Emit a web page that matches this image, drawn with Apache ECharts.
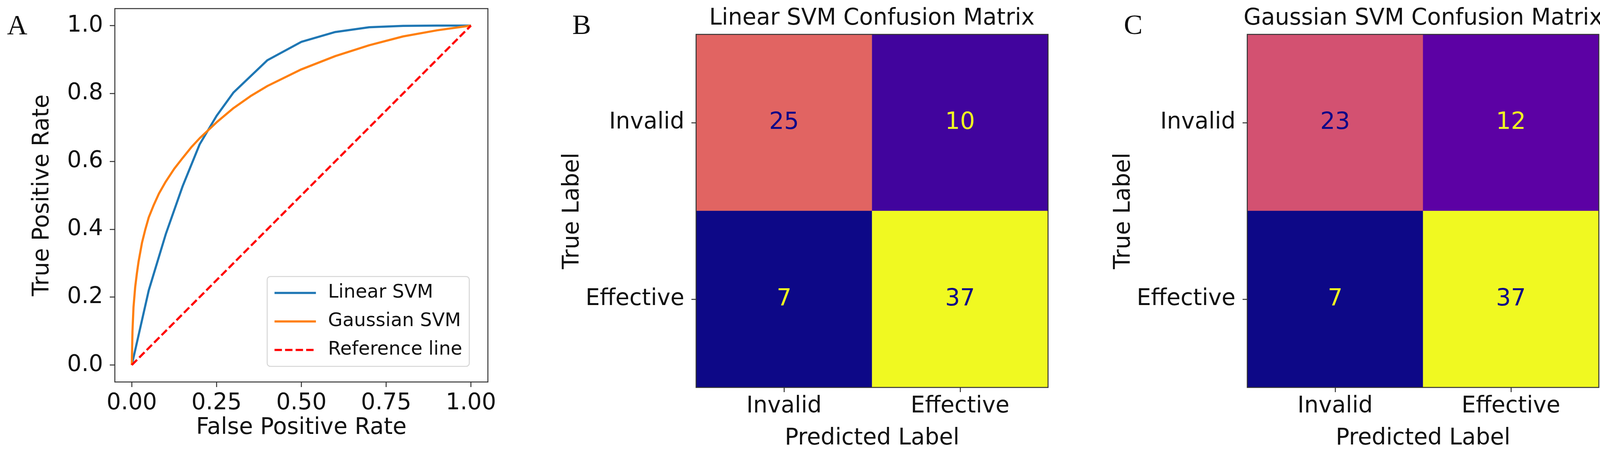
<!DOCTYPE html>
<html>
<head>
<meta charset="utf-8">
<script src="https://cdn.jsdelivr.net/npm/echarts@6/dist/echarts.min.js"></script>
<style>
html,body{margin:0;padding:0;background:#fff;}
#chart{width:4152px;height:1188px;}
</style>
</head>
<body>
<div id="chart"></div>
<script>
// ---- ROC data ----
const linearFpr = [0, 0.05, 0.1, 0.15, 0.2, 0.25, 0.3, 0.4, 0.5, 0.6, 0.7, 0.8, 0.9, 1.0];
const linearTpr = [0, 0.22, 0.385, 0.527, 0.65, 0.734, 0.803, 0.898, 0.952, 0.981, 0.995, 0.999, 1.0, 1.0];
const gaussFpr = [0, 0.002, 0.005, 0.01, 0.015, 0.02, 0.03, 0.04, 0.05, 0.065, 0.08, 0.1, 0.125, 0.15, 0.175, 0.2, 0.25, 0.3, 0.35, 0.4, 0.5, 0.6, 0.7, 0.8, 0.9, 1.0];
const gaussTpr = [0, 0.1, 0.17, 0.23, 0.27, 0.305, 0.36, 0.4, 0.435, 0.472, 0.505, 0.54, 0.578, 0.61, 0.641, 0.668, 0.715, 0.757, 0.792, 0.822, 0.871, 0.91, 0.942, 0.968, 0.986, 1.0];
const refFpr = [0, 1];
const refTpr = [0, 1];
const rocNames = ['Linear SVM', 'Gaussian SVM', 'Reference line'];
const xTicks = [0, 0.25, 0.5, 0.75, 1.0];
const xTickLabels = ['0.00', '0.25', '0.50', '0.75', '1.00'];
const yTicks = [0, 0.2, 0.4, 0.6, 0.8, 1.0];
const yTickLabels = ['0.0', '0.2', '0.4', '0.6', '0.8', '1.0'];

// ---- Confusion matrices (rows: true label, cols: predicted label) ----
const cmLabels = ['Invalid', 'Effective'];
const linearCM = [[25, 10], [7, 37]];
const gaussianCM = [[23, 12], [7, 37]];
const cmTitles = ['Linear SVM Confusion Matrix', 'Gaussian SVM Confusion Matrix'];
const panelLetters = ['A', 'B', 'C'];

// plasma colormap stops
const plasma = ['#0d0887','#41049d','#6a00a8','#8f0da4','#b12a90','#cc4778','#e16462','#f2844b','#fca636','#fcce25','#f0f921'];

const FONT = 'DejaVu Sans';
const TXT = '#111';
const FRAME = '#333';

function pairs(xs, ys) { return xs.map((x, i) => [x, ys[i]]); }
function cmData(cm) {
  const flat = cm.flat();
  const thr = (Math.min(...flat) + Math.max(...flat)) / 2;
  const out = [];
  cm.forEach((row, i) => row.forEach((v, j) => {
    out.push({ value: [j, i, v], label: { color: v > thr ? plasma[0] : plasma[plasma.length - 1] } });
  }));
  return out;
}
function cmMin(cm) { return Math.min(...cm.flat()); }
function cmMax(cm) { return Math.max(...cm.flat()); }

const gridStyle = { show: true, borderColor: FRAME, borderWidth: 2.5, backgroundColor: 'transparent' };
const tickStyle = { lineStyle: { color: FRAME, width: 2.5 } };

function catX(gi) {
  return {
    type: 'category', gridIndex: gi, data: cmLabels,
    axisLine: { show: false },
    axisTick: Object.assign({ show: true, alignWithLabel: true, length: 12 }, tickStyle),
    axisLabel: { fontSize: 58, color: TXT, fontFamily: FONT, margin: 20 },
    splitLine: { show: false },
    name: 'Predicted Label', nameLocation: 'middle', nameGap: 102,
    nameTextStyle: { fontSize: 58, color: TXT, fontFamily: FONT }
  };
}
function catY(gi) {
  return {
    type: 'category', gridIndex: gi, data: cmLabels, inverse: true,
    axisLine: { show: false },
    axisTick: Object.assign({ show: true, alignWithLabel: true, length: 12 }, tickStyle),
    axisLabel: { fontSize: 58, color: TXT, fontFamily: FONT, margin: 30 },
    splitLine: { show: false },
    name: 'True Label', nameLocation: 'middle', nameGap: 276,
    nameTextStyle: { fontSize: 58, color: TXT, fontFamily: FONT }
  };
}
function heat(name, gi, cm) {
  return {
    name: name, type: 'heatmap', xAxisIndex: gi, yAxisIndex: gi, z: -1,
    data: cmData(cm),
    label: { show: true, fontSize: 60, fontFamily: FONT },
    itemStyle: { borderWidth: 0 },
    emphasis: { disabled: true }
  };
}

const option = {
  backgroundColor: '#fff',
  animation: false,
  textStyle: { fontFamily: FONT },
  grid: [
    Object.assign({ left: 294, top: 22, width: 955, height: 956 }, gridStyle),
    Object.assign({ left: 1782, top: 88, width: 901, height: 904 }, gridStyle),
    Object.assign({ left: 3193, top: 88, width: 900, height: 904 }, gridStyle)
  ],
  xAxis: [
    {
      type: 'value', gridIndex: 0, min: -0.05, max: 1.05,
      axisLine: { show: false, onZero: false },
      axisTick: Object.assign({ show: true, customValues: xTicks, length: 13 }, tickStyle),
      axisLabel: { customValues: xTicks, fontSize: 58, color: TXT, fontFamily: FONT, margin: 26,
        formatter: v => { const k = xTicks.indexOf(v); return k >= 0 ? xTickLabels[k] : ''; } },
      splitLine: { show: false },
      name: 'False Positive Rate', nameLocation: 'middle', nameGap: 86,
      nameTextStyle: { fontSize: 58, color: TXT, fontFamily: FONT }
    },
    catX(1), catX(2)
  ],
  yAxis: [
    {
      type: 'value', gridIndex: 0, min: -0.05, max: 1.05,
      axisLine: { show: false, onZero: false },
      axisTick: Object.assign({ show: true, customValues: yTicks, length: 13 }, tickStyle),
      axisLabel: { customValues: yTicks, fontSize: 58, color: TXT, fontFamily: FONT, margin: 30,
        formatter: v => { const k = yTicks.indexOf(v); return k >= 0 ? yTickLabels[k] : ''; } },
      splitLine: { show: false },
      name: 'True Positive Rate', nameLocation: 'middle', nameGap: 156,
      nameTextStyle: { fontSize: 58, color: TXT, fontFamily: FONT }
    },
    catY(1), catY(2)
  ],
  legend: {
    data: rocNames,
    orient: 'vertical', left: 684, top: 708,
    padding: [16, 18, 16, 16],
    itemWidth: 106, itemHeight: 20, itemGap: 21,
    itemStyle: { opacity: 0 },
    lineStyle: { width: 5.5 },
    backgroundColor: 'rgba(255,255,255,0.85)',
    borderColor: '#d6d6d6', borderWidth: 2.5, borderRadius: 8,
    textStyle: { fontSize: 48, color: TXT, fontFamily: FONT, lineHeight: 52, padding: [0, 0, 0, 26] },
    selectedMode: false
  },
  visualMap: [
    { type: 'continuous', show: false, seriesIndex: 3, dimension: 2, min: cmMin(linearCM), max: cmMax(linearCM), inRange: { color: plasma } },
    { type: 'continuous', show: false, seriesIndex: 4, dimension: 2, min: cmMin(gaussianCM), max: cmMax(gaussianCM), inRange: { color: plasma } }
  ],
  series: [
    { name: rocNames[0], type: 'line', xAxisIndex: 0, yAxisIndex: 0, data: pairs(linearFpr, linearTpr),
      symbol: 'none', lineStyle: { color: '#1f77b4', width: 5.5 }, itemStyle: { color: '#1f77b4' } },
    { name: rocNames[1], type: 'line', xAxisIndex: 0, yAxisIndex: 0, data: pairs(gaussFpr, gaussTpr),
      symbol: 'none',
      lineStyle: { color: '#ff7f0e', width: 5.5 }, itemStyle: { color: '#ff7f0e' } },
    { name: rocNames[2], type: 'line', xAxisIndex: 0, yAxisIndex: 0, data: pairs(refFpr, refTpr),
      symbol: 'none', lineStyle: { color: '#ff0000', width: 5.5, type: [19, 8] }, itemStyle: { color: '#ff0000' } },
    heat(cmTitles[0], 1, linearCM),
    heat(cmTitles[1], 2, gaussianCM)
  ],
  graphic: [
    { type: 'text', x: 18, y: 69, style: { text: panelLetters[0], font: '72px "Liberation Serif"', fill: '#111', verticalAlign: 'middle', align: 'left' } },
    { type: 'text', x: 1465, y: 68, style: { text: panelLetters[1], font: '72px "Liberation Serif"', fill: '#111', verticalAlign: 'middle', align: 'left' } },
    { type: 'text', x: 2877, y: 68, style: { text: panelLetters[2], font: '72px "Liberation Serif"', fill: '#111', verticalAlign: 'middle', align: 'left' } },
    { type: 'text', x: 2232, y: 48, style: { text: cmTitles[0], font: '58px "DejaVu Sans"', fill: '#111', verticalAlign: 'middle', align: 'center' } },
    { type: 'text', x: 3643, y: 48, style: { text: cmTitles[1], font: '58px "DejaVu Sans"', fill: '#111', verticalAlign: 'middle', align: 'center' } }
  ]
};

const chart = echarts.init(document.getElementById('chart'), null, { renderer: 'canvas' });
chart.setOption(option);
</script>
</body>
</html>
